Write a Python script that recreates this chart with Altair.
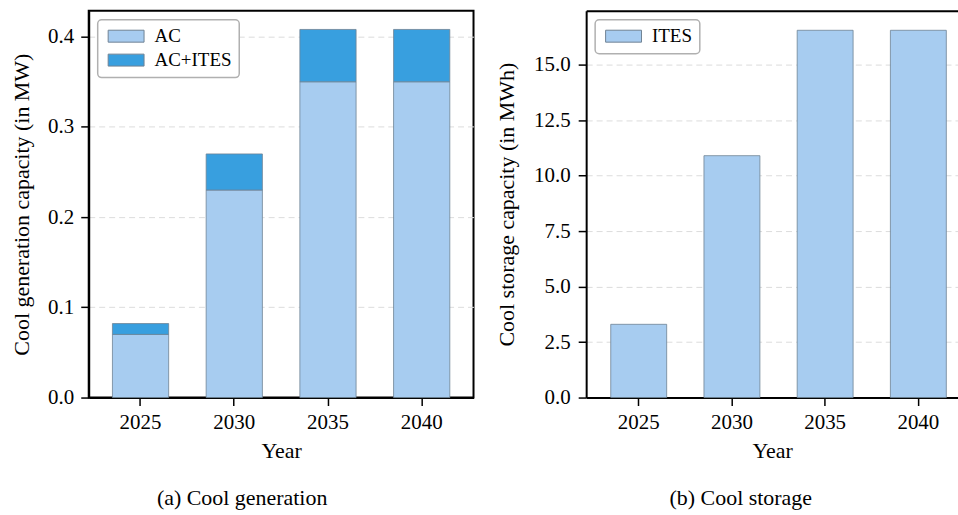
import altair as alt
import pandas as pd

# Capacity per planning year
years = ["2025", "2030", "2035", "2040"]
ac_mw = [0.07, 0.23, 0.35, 0.35]            # AC alone
ac_ites_extra_mw = [0.012, 0.04, 0.058, 0.058]  # additional capacity with ITES
ites_mwh = [3.3, 10.9, 16.55, 16.55]        # ice thermal energy storage

gen_series = ["AC", "AC+ITES"]
gen_colors = ["#a7ccf0", "#389fdf"]
stor_series = ["ITES"]
stor_colors = ["#a7ccf0"]

FONT = "Liberation Serif"
BAR_EDGE = "#6f8394"
# wide flat swatch (3:1) for the legend entries
RECT_SYMBOL = "M-3,-1L3,-1L3,1L-3,1Z"

gen_df = pd.DataFrame({
    "Year": years * 2,
    "Series": [gen_series[0]] * len(years) + [gen_series[1]] * len(years),
    "Order": [0] * len(years) + [1] * len(years),
    "Value": ac_mw + ac_ites_extra_mw,
})
stor_df = pd.DataFrame({
    "Year": years,
    "Series": stor_series * len(years),
    "Value": ites_mwh,
})


def box_legend():
    return alt.Legend(
        title=None, orient="top-left", offset=9, padding=7,
        strokeColor="#b0b0b0", cornerRadius=4, fillColor="white",
        symbolType=RECT_SYMBOL, symbolSize=144, symbolOffset=12,
        symbolStrokeColor=BAR_EDGE, symbolStrokeWidth=1, symbolOpacity=1,
        labelFont=FONT, labelFontSize=19, labelOffset=19, rowPadding=4,
    )


def x_axis():
    return alt.Axis(
        title="Year", labelAngle=0, grid=False,
        domainColor="black", domainWidth=2,
        tickColor="black", tickWidth=1.5, tickSize=8,
        labelFontSize=21, titleFontSize=22, labelPadding=6, titlePadding=8,
    )


def y_axis(title, values, label_pad, title_pad):
    return alt.Axis(
        title=title, values=values, format=".1f",
        domainColor="black", domainWidth=2,
        tickColor="black", tickWidth=1.5, tickSize=8,
        labelFontSize=21, titleFontSize=22,
        labelPadding=label_pad, titlePadding=title_pad,
        grid=True, gridColor="#dcdcdc", gridDash=[6, 4], gridWidth=1,
    )


# (a) cool generation: stacked AC / AC+ITES
gen = alt.Chart(gen_df).mark_bar(stroke=BAR_EDGE, strokeWidth=0.8).encode(
    x=alt.X("Year:N", sort=years,
            scale=alt.Scale(paddingInner=0.4, paddingOuter=0.253),
            axis=x_axis()),
    y=alt.Y("Value:Q", stack="zero",
            scale=alt.Scale(domain=[0, 0.4287], nice=False),
            axis=y_axis("Cool generation capacity (in MW)",
                        [0, 0.1, 0.2, 0.3, 0.4], 7, 14)),
    color=alt.Color("Series:N",
                    scale=alt.Scale(domain=gen_series, range=gen_colors),
                    legend=box_legend()),
    order=alt.Order("Order:Q"),
).properties(
    width=386, height=388,
    title=alt.TitleParams("(a) Cool generation", orient="bottom", anchor="middle",
                          frame="bounds", font=FONT, fontSize=22,
                          fontWeight="normal", offset=27),
)

# (b) cool storage: ITES energy capacity
stor_x_scale = alt.Scale(paddingInner=0.4, paddingOuter=0.1945, align=0.678)
stor_bars = alt.Chart(stor_df).mark_bar(stroke=BAR_EDGE, strokeWidth=0.8).encode(
    x=alt.X("Year:N", sort=years, scale=stor_x_scale, axis=x_axis()),
    y=alt.Y("Value:Q",
            scale=alt.Scale(domain=[0, 17.43], nice=False),
            axis=y_axis("Cool storage capacity (in MWh)",
                        [0, 2.5, 5, 7.5, 10, 12.5, 15], 8, 15)),
    color=alt.Color("Series:N",
                    scale=alt.Scale(domain=stor_series, range=stor_colors),
                    legend=box_legend()),
)
# top frame line of the panel
stor_top = alt.Chart(stor_df).mark_bar(opacity=0).encode(
    x=alt.X("Year:N", sort=years, scale=stor_x_scale,
            axis=alt.Axis(orient="top", labels=False, ticks=False, title=None,
                          grid=False, domainColor="black", domainWidth=2)),
)
stor = alt.layer(stor_bars, stor_top).resolve_axis(x="independent").properties(
    width=373, height=388,
    view=alt.ViewBackground(strokeWidth=0),
    title=alt.TitleParams("(b) Cool storage", orient="bottom", anchor="middle",
                          frame="bounds", font=FONT, fontSize=22,
                          fontWeight="normal", offset=27, dx=14),
)

chart = alt.hconcat(gen, stor, spacing=21).resolve_scale(
    color="independent", x="independent", y="independent"
).properties(
    padding={"left": 9, "top": 9, "right": 0, "bottom": 0},
).configure(
    font=FONT,
).configure_axis(
    labelFont=FONT, titleFont=FONT, labelColor="black", titleColor="black",
    titleFontWeight="normal",
).configure_legend(
    strokeWidth=1.5,
).configure_view(
    stroke="black", strokeWidth=2,
)

chart.save("out.html", embed_options={"renderer": "svg", "actions": False})
